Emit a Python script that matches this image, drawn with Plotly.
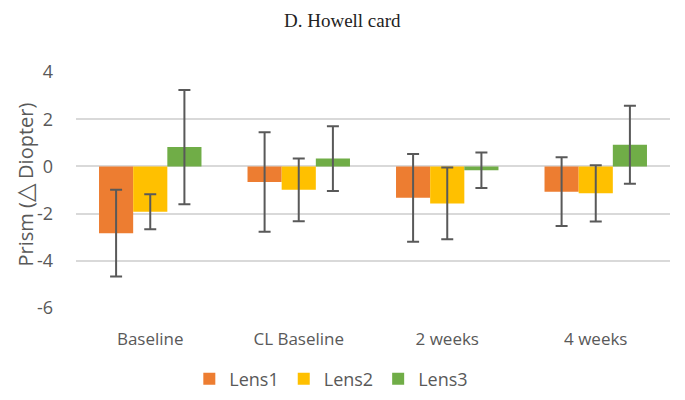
import plotly.graph_objects as go

categories = ["Baseline", "CL Baseline", "2 weeks", "4 weeks"]
lens1 = [-2.83, -0.66, -1.33, -1.07]
lens1_err = [1.84, 2.11, 1.86, 1.46]
lens2 = [-1.92, -0.99, -1.57, -1.14]
lens2_err = [0.74, 1.33, 1.52, 1.19]
lens3 = [0.82, 0.33, -0.16, 0.92]
lens3_err = [2.42, 1.37, 0.75, 1.65]
series_names = ["Lens1", "Lens2", "Lens3"]
colors = ["#ED7D31", "#FFC000", "#70AD47"]
yticks = [-6, -4, -2, 0, 2, 4]
ytick_labels = ["-6", "-4", "-2", "0", "2", "4"]

fig = go.Figure()
for name, vals, errs, col in zip(series_names, [lens1, lens2, lens3],
                                 [lens1_err, lens2_err, lens3_err], colors):
    fig.add_trace(go.Bar(
        x=categories, y=vals, name=name, marker_color=col,
        marker_line_width=0,
        error_y=dict(type="data", array=errs, visible=True,
                     color="#595959", thickness=2, width=6),
    ))

font_family = "Open Sans, Liberation Sans, sans-serif"
fig.update_layout(
    width=685, height=400,
    barmode="group", bargap=0.31, bargroupgap=0,
    plot_bgcolor="white", paper_bgcolor="white",
    margin=dict(l=68, r=23, t=64, b=100, autoexpand=False),
    title=dict(text="D. Howell card", x=0.488, xanchor="center", y=0.985, yanchor="top",
               yref="container", pad=dict(t=0, b=0),
               font=dict(family="Liberation Serif, serif", size=19, color="#222222")),
    font=dict(family=font_family, color="#595959"),
    xaxis=dict(showgrid=False, showline=False, ticks="", tickfont=dict(size=17, color="#595959"),
               ticklabelstandoff=19, automargin=False),
    yaxis=dict(range=[-6, 4], tickvals=yticks, ticktext=ytick_labels, showgrid=True,
               gridcolor="#d9d9d9", gridwidth=1.5, automargin=False,
               zeroline=False, tickfont=dict(size=18, color="#595959"), ticklabelstandoff=22),
    annotations=[dict(
        text="Prism (<span style='font-size:24px'>\u25b3</span> Diopter)",
        xref="paper", yref="paper", x=-0.088, y=0.522, xanchor="center", yanchor="middle",
        textangle=-90, showarrow=False, font=dict(size=20, color="#595959", family=font_family),
    )],
    showlegend=True,
    legend=dict(orientation="h", x=0.472, xanchor="center", xref="container",
                y=0.0725, yanchor="middle", yref="container",
                font=dict(size=18, color="#595959"), traceorder="normal", itemwidth=30),
)
fig.write_html("out.html")
